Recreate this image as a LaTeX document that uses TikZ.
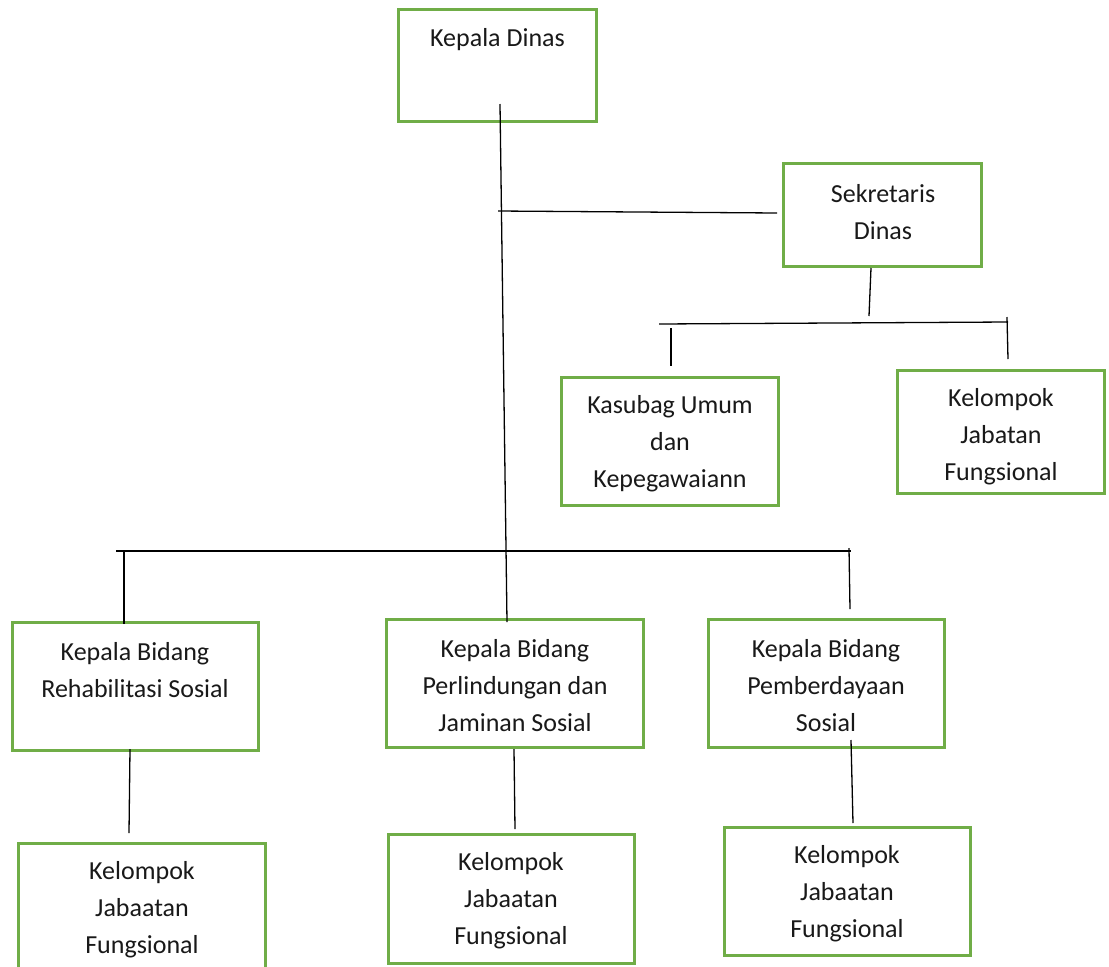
\documentclass[tikz,border=0pt]{standalone}
\usepackage{fontspec}
\setmainfont{Carlito}
\definecolor{boxgreen}{HTML}{70AD47}
\begin{document}
\begin{tikzpicture}[x=1pt,y=-1pt,
  box/.style={draw=boxgreen, line width=3pt, rectangle, inner sep=0pt, outer sep=0pt},
  txt/.style={align=center, inner sep=0pt, font=\fontsize{26}{37}\selectfont, text=black!90},
  conn/.style={draw=black, line width=1.3pt}]
\clip (0,0) rectangle (1109,967);
\fill[white] (0,0) rectangle (1109,967);
% boxes
\node[box, minimum width=198, minimum height=112] (kd)  at (497.5,65.5) {};
\node[box, minimum width=198, minimum height=103] (sek) at (882.5,215) {};
\node[box, minimum width=217, minimum height=128] (kas) at (670,441.5) {};
\node[box, minimum width=207, minimum height=123] (kjf) at (1001,432) {};
\node[box, minimum width=246, minimum height=128] (kb1) at (135.5,686.5) {};
\node[box, minimum width=257, minimum height=128] (kb2) at (515,683.5) {};
\node[box, minimum width=236, minimum height=128] (kb3) at (826.5,683.5) {};
\node[box, minimum width=247, minimum height=130] (f1)  at (142,908) {};
\node[box, minimum width=246, minimum height=129] (f2)  at (511.5,899) {};
\node[box, minimum width=246, minimum height=128] (f3)  at (847.5,891.5) {};
% texts
\node[txt] (kd-t)  at (497.5,40) {Kepala Dinas};
\node[txt] (sek-t) at (883,212.5) {Sekretaris\\Dinas};
\node[txt] (kas-t) at (670,443.5) {Kasubag Umum\\dan\\Kepegawaiann};
\node[txt] (kjf-t) at (1001,437) {Kelompok\\Jabatan\\Fungsional};
\node[txt] (kb1-t) at (135,670) {Kepala Bidang\\Rehabilitasi Sosial};
\node[txt] (kb2-t) at (515,686) {Kepala Bidang\\Perlindungan dan\\Jaminan Sosial};
\node[txt] (kb3-t) at (826,686) {Kepala Bidang\\Pemberdayaan\\Sosial};
\node[txt] (f1-t)  at (142,910) {Kelompok\\Jabaatan\\Fungsional};
\node[txt] (f2-t)  at (511,901) {Kelompok\\Jabaatan\\Fungsional};
\node[txt] (f3-t)  at (847,894) {Kelompok\\Jabaatan\\Fungsional};
% connector points
\coordinate (m1) at (500,104);
\coordinate (m2) at (507,622);
\coordinate (s1) at (498,211);
\coordinate (s2) at (777,213);
\coordinate (sd1) at (871,268);
\coordinate (sd2) at (869,316);
\coordinate (h1) at (659,324);
\coordinate (h2) at (1008,322);
\coordinate (hr1) at (1007,317);
\coordinate (hr2) at (1008,359);
\coordinate (hl1) at (671,328);
\coordinate (hl2) at (671,366);
\coordinate (b1) at (116,551);
\coordinate (b2) at (851,551);
\coordinate (bl1) at (124,551);
\coordinate (bl2) at (124,624);
\coordinate (br1) at (849,548);
\coordinate (br2) at (850,609);
\coordinate (d11) at (130,749);
\coordinate (d12) at (129,833);
\coordinate (d21) at (514,749);
\coordinate (d22) at (515,829);
\coordinate (d31) at (851,740);
\coordinate (d32) at (853,823);
% connectors
\draw[conn] (m1) -- (m2);
\draw[conn] (s1) -- (s2);
\draw[conn] (sd1) -- (sd2);
\draw[conn] (h1) -- (h2);
\draw[conn] (hr1) -- (hr2);
\draw[conn] (hl1) -- (hl2);
\draw[conn] (b1) -- (b2);
\draw[conn] (bl1) -- (bl2);
\draw[conn] (br1) -- (br2);
\draw[conn] (d11) -- (d12);
\draw[conn] (d21) -- (d22);
\draw[conn] (d31) -- (d32);
\end{tikzpicture}
\end{document}
